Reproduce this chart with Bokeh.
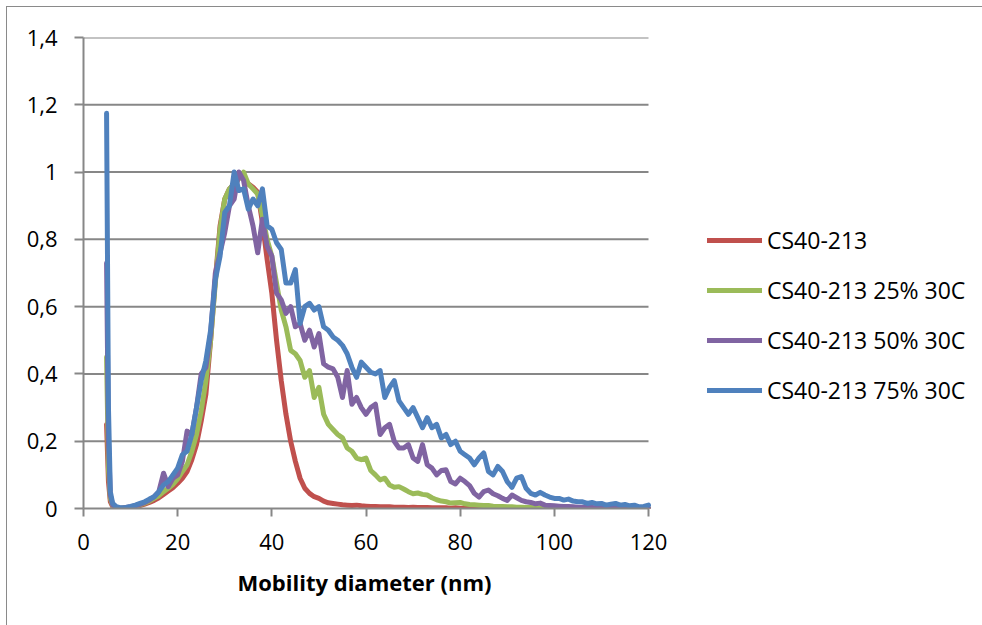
from bokeh.plotting import figure
from bokeh.models import Range1d, FixedTicker, CustomJSTickFormatter, Legend, LegendItem, Title
from bokeh.embed import file_html
from bokeh.resources import INLINE

# Mobility diameter (nm)
x_nm = [4.9, 5.3, 5.7, 6.2, 7,
        8, 9,
        10, 11, 12, 13, 14, 15, 16, 17, 18, 19,
        20, 21, 22, 23, 24, 25, 26, 27, 28, 29,
        30, 31, 32, 33, 34, 35, 36, 37, 38, 39,
        40, 41, 42, 43, 44, 45, 46, 47, 48, 49,
        50, 51, 52, 53, 54, 55, 56, 57, 58, 59,
        60, 61, 62, 63, 64, 65, 66, 67, 68, 69,
        70, 71, 72, 73, 74, 75, 76, 77, 78, 79,
        80, 81, 82, 83, 84, 85, 86, 87, 88, 89,
        90, 91, 92, 93, 94, 95, 96, 97, 98, 99,
        100, 101, 102, 103, 104, 105, 106, 107, 108, 109,
        110, 111, 112, 113, 114, 115, 116, 117, 118, 119,
        120]

cs40 = [0.25, 0.08, 0.02, 0.005, 0.0,
        0.0, 0.002,
        0.004, 0.006, 0.009, 0.013, 0.018, 0.024, 0.032, 0.042, 0.052, 0.062,
        0.075, 0.09, 0.11, 0.145, 0.19, 0.26, 0.34, 0.5, 0.68, 0.84,
        0.92, 0.95, 0.965, 0.99, 0.98, 0.965, 0.955, 0.94, 0.85, 0.74,
        0.64, 0.5, 0.38, 0.28, 0.2, 0.14, 0.09, 0.06, 0.045, 0.035,
        0.03, 0.022, 0.017, 0.015, 0.013, 0.011, 0.01, 0.009, 0.01, 0.008,
        0.007, 0.006, 0.006, 0.005, 0.005, 0.005, 0.004, 0.004, 0.004, 0.003,
        0.004, 0.003, 0.003, 0.003, 0.002, 0.002, 0.002, 0.002, 0.001, 0.002,
        0.001, 0.001, 0.001, 0.001, 0.001, 0.001, 0.001, 0.0, 0.0, 0.0,
        0.0, 0.0, 0.0, 0.0, 0.0, 0.0, 0.0, 0.0, 0.0, 0.0,
        0.0, 0.0, 0.0, 0.0, 0.0, 0.0, 0.0, 0.0, 0.0, 0.0,
        0.0, 0.0, 0.0, 0.0, 0.0, 0.0, 0.0, 0.0, 0.0, 0.0,
        0.0]

cs40_25 = [0.45, 0.12, 0.03, 0.008, 0.002,
           0.0, 0.002,
           0.004, 0.007, 0.011, 0.016, 0.022, 0.03, 0.038, 0.05, 0.06, 0.072,
           0.088, 0.11, 0.13, 0.17, 0.22, 0.29, 0.38, 0.5, 0.67, 0.83,
           0.92, 0.95, 0.965, 0.98, 1.0, 0.965, 0.95, 0.935, 0.87, 0.8,
           0.75, 0.67, 0.59, 0.54, 0.47, 0.46, 0.44, 0.39, 0.41, 0.33,
           0.36, 0.28, 0.25, 0.235, 0.22, 0.21, 0.18, 0.17, 0.15, 0.145,
           0.15, 0.113, 0.1, 0.085, 0.09, 0.07, 0.063, 0.065, 0.058, 0.05,
           0.044, 0.046, 0.042, 0.04, 0.032, 0.026, 0.022, 0.02, 0.016, 0.017,
           0.018, 0.014, 0.012, 0.011, 0.01, 0.009, 0.009, 0.007, 0.006, 0.006,
           0.005, 0.005, 0.004, 0.004, 0.003, 0.003, 0.002, 0.002, 0.002, 0.001,
           0.001, 0.001, 0.001, 0.0, 0.0, 0.0, 0.0, 0.0, 0.0, 0.0,
           0.0, 0.0, 0.0, 0.0, 0.0, 0.0, 0.0, 0.0, 0.0, 0.0,
           0.0]

cs40_50 = [0.73, 0.2, 0.04, 0.01, 0.003,
           0.0, 0.003,
           0.005, 0.008, 0.012, 0.018, 0.025, 0.035, 0.05, 0.105, 0.065, 0.09,
           0.1, 0.14, 0.23, 0.22, 0.3, 0.4, 0.42, 0.52, 0.7, 0.76,
           0.82, 0.9, 0.92, 1.0, 0.975, 0.9, 0.84, 0.76, 0.86, 0.78,
           0.75, 0.64, 0.62, 0.58, 0.6, 0.54, 0.55, 0.5, 0.53, 0.48,
           0.52, 0.43, 0.42, 0.415, 0.39, 0.33, 0.41, 0.31, 0.33, 0.3,
           0.28, 0.3, 0.31, 0.22, 0.24, 0.25, 0.2, 0.18, 0.18, 0.19,
           0.15, 0.14, 0.19, 0.13, 0.12, 0.1, 0.113, 0.115, 0.08, 0.073,
           0.09, 0.08, 0.068, 0.045, 0.034, 0.05, 0.055, 0.044, 0.038, 0.03,
           0.024, 0.04, 0.032, 0.024, 0.02, 0.018, 0.014, 0.016, 0.01, 0.009,
           0.008, 0.007, 0.006, 0.006, 0.005, 0.004, 0.004, 0.003, 0.003, 0.002,
           0.002, 0.001, 0.001, 0.001, 0.0, 0.0, 0.0, 0.0, 0.0, 0.0,
           0.0]

cs40_75 = [1.175, 0.3, 0.05, 0.015, 0.005,
           0.002, 0.003,
           0.006, 0.01, 0.015, 0.02, 0.028, 0.035, 0.05, 0.07, 0.08, 0.1,
           0.12, 0.16, 0.17, 0.22, 0.3, 0.38, 0.44, 0.53, 0.68, 0.75,
           0.88, 0.9, 1.0, 0.945, 0.95, 0.89, 0.92, 0.9, 0.95, 0.84,
           0.83, 0.79, 0.77, 0.67, 0.67, 0.71, 0.55, 0.6, 0.61, 0.59,
           0.6, 0.54, 0.53, 0.51, 0.5, 0.485, 0.46, 0.42, 0.39, 0.435,
           0.42, 0.405, 0.4, 0.41, 0.33, 0.36, 0.38, 0.32, 0.3, 0.28,
           0.3, 0.27, 0.24, 0.27, 0.24, 0.25, 0.21, 0.22, 0.19, 0.2,
           0.17, 0.16, 0.15, 0.13, 0.15, 0.165, 0.11, 0.1, 0.125, 0.11,
           0.08, 0.063, 0.09, 0.095, 0.06, 0.045, 0.04, 0.048, 0.04, 0.034,
           0.03, 0.03, 0.025, 0.028, 0.022, 0.02, 0.02, 0.015, 0.018, 0.014,
           0.015, 0.01, 0.013, 0.015, 0.01, 0.012, 0.008, 0.01, 0.005, 0.006,
           0.01]

series_names = ["CS40-213", "CS40-213 25% 30C", "CS40-213 50% 30C", "CS40-213 75% 30C"]
series_values = [cs40, cs40_25, cs40_50, cs40_75]
series_colors = ["#C0504D", "#9BBB59", "#8064A2", "#4F81BD"]

x_ticks = [0, 20, 40, 60, 80, 100, 120]
y_ticks = [0, 0.2, 0.4, 0.6, 0.8, 1, 1.2, 1.4]
x_min, x_max = 0, 120
x_title = "Mobility diameter (nm)"

FONT = "Open Sans"
GRID = "#878787"

W, H = 976, 619
LEFT, TOP, BOTTOM = 76, 30, 118
PLOT_W = 565  # pixel width of the 0..120 plot area
# the frame spans the full canvas to the right so the legend can sit in it;
# the axis and gridlines are bounded to 0..120
x_view_end = x_max * (W - LEFT) / PLOT_W

p = figure(width=W, height=H,
           x_range=Range1d(x_min, x_view_end), y_range=Range1d(0, 1.4),
           output_backend="svg", toolbar_location=None,
           min_border_left=LEFT, min_border_right=0,
           min_border_top=TOP, min_border_bottom=BOTTOM)
p.margin = (6, 0, 0, 6)
p.styles = {"border-left": "1px solid #8a8a8a", "border-top": "1px solid #8a8a8a"}
p.outline_line_color = None
p.background_fill_color = "white"
p.border_fill_color = "white"

p.xgrid.visible = False
p.ygrid.visible = False
grid_y = y_ticks[1:]
p.segment(x0=[x_min] * len(grid_y), x1=[x_max] * len(grid_y), y0=grid_y, y1=grid_y,
          line_color=GRID, line_width=2)

for ax in (p.xaxis[0], p.yaxis[0]):
    ax.axis_line_color = GRID
    ax.axis_line_width = 2
    ax.major_tick_line_color = GRID
    ax.major_tick_line_width = 2
    ax.minor_tick_line_color = None
    ax.major_tick_in = 0
    ax.major_label_text_font = FONT
    ax.major_label_text_font_size = "22px"
    ax.major_label_text_color = "black"

p.xaxis.bounds = (x_min, x_max)
p.xaxis.ticker = FixedTicker(ticks=x_ticks)
p.yaxis.ticker = FixedTicker(ticks=y_ticks)
p.xaxis.major_tick_out = 8
p.yaxis.major_tick_out = 9
p.xaxis.major_label_standoff = 17
p.yaxis.major_label_standoff = 17
p.yaxis.formatter = CustomJSTickFormatter(
    code="var s = (Math.round(tick * 10) / 10).toString(); return s.replace('.', ',');")

xt = Title(text=x_title, align="left", offset=154, standoff=24,
           text_font=FONT, text_font_size="22px", text_font_style="bold",
           text_color="black")
p.add_layout(xt, "below")

items = []
for name, vals, col in zip(series_names, series_values, series_colors):
    r = p.line(x_nm, vals, line_color=col, line_width=5,
               line_join="round", line_cap="round")
    items.append(LegendItem(label=name, renderers=[r]))

legend = Legend(items=items, location=(624, 102),
                glyph_width=55, glyph_height=30, label_height=30,
                label_standoff=5, spacing=18, padding=0, margin=0,
                label_text_font=FONT, label_text_font_size="23px",
                label_text_color="black",
                border_line_color=None, background_fill_alpha=0)
p.add_layout(legend, "center")

open("out.html", "w").write(file_html(p, INLINE))
